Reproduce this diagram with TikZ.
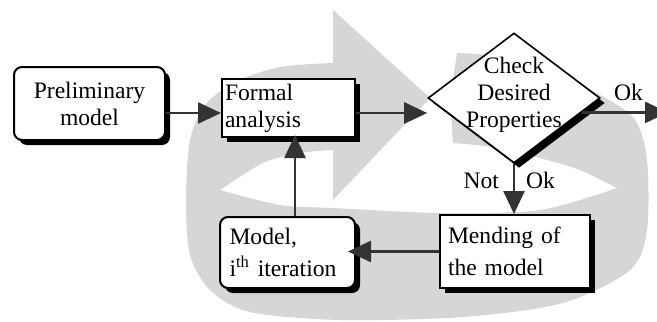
\documentclass[tikz,border=0pt]{standalone}
\usepackage{fontspec}
\setmainfont{Liberation Serif}
\usetikzlibrary{shapes.geometric,shadows,arrows.meta,positioning}

\tikzset{
  ring/.style={fill=black!16},
  shad/.style={drop shadow={shadow xshift=2.5pt,shadow yshift=-2.5pt,fill=black,opacity=1}},
  proc/.style={draw=black,line width=1pt,fill=white,shad,inner sep=0pt},
  altproc/.style={proc,rounded corners=4pt},
  decision/.style={diamond,draw=black,line width=0.8pt,fill=white,shad,
    minimum width=86pt,minimum height=65pt,inner sep=0pt},
  conn/.style={draw=black!80,line width=1.3pt,-{Triangle[length=11.5pt,width=10.5pt]}},
  loose/.style={font=\fontsize{11.8pt}{16pt}\selectfont}
}

\begin{document}
\begin{tikzpicture}[x=0.5pt,y=-0.5pt,
  every node/.style={font=\fontsize{11.8pt}{13.5pt}\selectfont}]
	\useasboundingbox (0,0) rectangle (657,321);
	\clip (0,0) rectangle (657,321);

	% grey circular arrow behind the chart
	\fill[ring] plot[smooth] coordinates {(457,53) (520,60) (600,95) (635,120) (647,160) (647,230) (630,270) (563,303) (463,317) (340,320) (250,312) (210,290) (190,255) (186,200) (190,140) (205,105) (235,82) (280,67) (333,63)}
		-- plot[smooth] coordinates {(333,150) (300,153) (263,163) (220,190)}
		-- plot[smooth] coordinates {(220,190) (280,205) (333,208) (440,213) (540,210) (617,188)}
		-- plot[smooth] coordinates {(617,188) (580,170) (547,160) (500,148) (453,143)}
		-- plot[smooth] coordinates {(453,143) (451,100) (457,53)} -- cycle;
	\fill[ring] (333,10) -- (430,98) -- (333,200) -- cycle;

	\coordinate (flow) at (0,113);
	\coordinate (okend) at (668,0);
	\coordinate (rise) at (295,0);

	\node[altproc, minimum width=75.5pt, minimum height=36.5pt, align=center] (prelim) at (89.5,103.5) {Preliminary\\model};
	\node[proc, minimum width=66.5pt, minimum height=29pt, text width=63.5pt, inner xsep=1.5pt, align=left] (formal) at (288.5,108) {Formal\\analysis};
	\node[decision, label={[align=center,yshift=1.5pt]center:Check\\Desired\\Properties}] (check) at (514,98) {};
	\node[proc, loose, minimum width=75pt, minimum height=36.5pt, text width=67pt, inner xsep=4pt, align=left] (mending) at (515,251.5) {Mending of\\the model};
	\node[altproc, loose, minimum width=67.5pt, minimum height=35.5pt, text width=58pt, inner xsep=4.75pt, align=left] (model) at (287.5,252.5) {Model,\\i\textsuperscript{th} iteration};

	\node[anchor=base east] (notlbl) at (506,188) {Not};
	\node[anchor=base west] (oklbl) at (519,188) {Ok};
	\node[anchor=base west] (passlbl) at (607,100) {Ok};

	\draw[conn] (prelim.east |- flow) -- (formal.west |- flow);
	\draw[conn] (formal.east |- flow) -- (check.west |- flow);
	\draw[conn] (check.348) -- (check.348 -| okend);
	\draw[conn] (check.south) -- (check.south |- mending.north);
	\draw[conn, shorten >=-4pt] (mending.west) -- (model.east |- mending.west);
	\draw[conn, shorten >=-1.5pt] (model.north -| rise) -- (formal.south -| rise);
\end{tikzpicture}
\end{document}
